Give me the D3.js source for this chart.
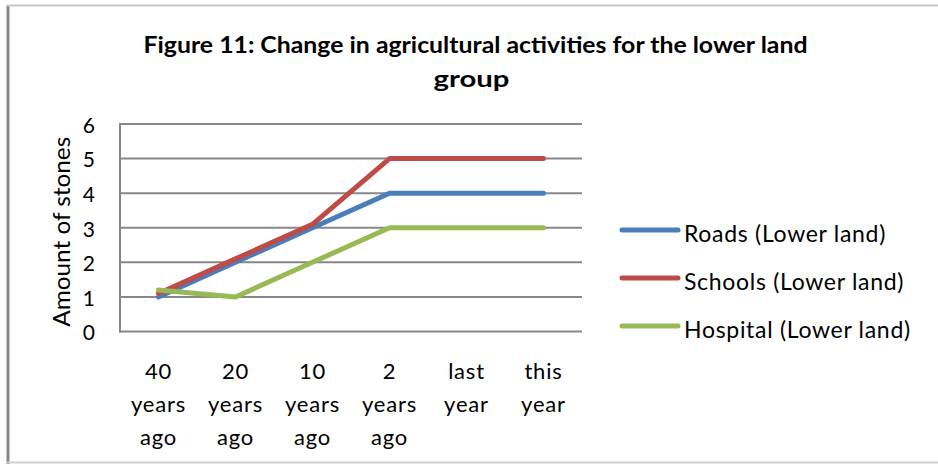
<!DOCTYPE html>
<html>
<head>
<meta charset="utf-8">
<script src="https://cdn.jsdelivr.net/npm/d3@7"></script>
<style>
  html, body { margin: 0; padding: 0; background: #fff; }
  svg { display: block; font-family: Lato, "Open Sans", sans-serif; }
</style>
</head>
<body>
<svg id="chart" width="938" height="464"></svg>
<script>
// Periods on the horizontal axis (each label wraps onto several lines)
const categories = [
  ["40", "years", "ago"],
  ["20", "years", "ago"],
  ["10", "years", "ago"],
  ["2", "years", "ago"],
  ["last", "year"],
  ["this", "year"]
];
const seriesNames = ["Roads (Lower land)", "Schools (Lower land)", "Hospital (Lower land)"];
const roads    = [1, 2, 3, 4, 4, 4];
const schools  = [1.1, 2.1, 3.1, 5, 5, 5];
const hospital = [1.2, 1, 2, 3, 3, 3];
const yTicks = [0, 1, 2, 3, 4, 5, 6];
const colors = ["#4A7EBB", "#BE4B48", "#98B954"];

const series = [roads, schools, hospital].map((values, i) => ({
  name: seriesNames[i], values, color: colors[i]
}));

const svg = d3.select("#chart");

// outer frame of the chart
svg.append("line").attr("x1", 8).attr("x2", 8).attr("y1", 5).attr("y2", 464)
  .attr("stroke", "#878787").attr("stroke-width", 3);
svg.append("line").attr("x1", 7).attr("x2", 938).attr("y1", 5.5).attr("y2", 5.5)
  .attr("stroke", "#c8c8c8").attr("stroke-width", 2);
svg.append("line").attr("x1", 7).attr("x2", 938).attr("y1", 462.5).attr("y2", 462.5)
  .attr("stroke", "#d0d0d0").attr("stroke-width", 2);

// title
const title = svg.append("text").attr("text-anchor", "middle")
  .attr("font-weight", "bold").attr("font-size", 22).attr("fill", "#000");
title.append("tspan").attr("x", 475.5).attr("y", 53)
  .attr("textLength", 664).attr("lengthAdjust", "spacingAndGlyphs")
  .text("Figure 11: Change  in agricultural  activities  for the lower land");
title.append("tspan").attr("x", 471.5).attr("y", 87)
  .attr("textLength", 76).attr("lengthAdjust", "spacingAndGlyphs")
  .text("group");

const plot = { left: 120, right: 582, top: 124, bottom: 331.5 };

const x = d3.scaleBand()
  .domain(d3.range(categories.length))
  .range([plot.left, plot.right]);
const y = d3.scaleLinear().domain([0, 6]).range([plot.bottom, plot.top]);

// horizontal gridlines
svg.append("g").selectAll("line").data(yTicks.filter(t => t > 0)).join("line")
  .attr("x1", plot.left).attr("x2", plot.right)
  .attr("y1", d => y(d)).attr("y2", d => y(d))
  .attr("stroke", "#878787").attr("stroke-width", 2);

// y axis
const yAxis = svg.append("g").attr("transform", `translate(${plot.left},0)`)
  .call(d3.axisLeft(y).tickValues(yTicks).tickFormat(d3.format("d"))
    .tickSize(0).tickPadding(25));
yAxis.select(".domain").remove();
yAxis.selectAll("text").attr("font-size", 21).attr("fill", "#000")
  .attr("font-family", "Lato, sans-serif").attr("dy", "0.4em");
svg.append("line").attr("x1", plot.left).attr("x2", plot.left)
  .attr("y1", plot.top - 1).attr("y2", plot.bottom + 1)
  .attr("stroke", "#878787").attr("stroke-width", 2);

// x axis baseline
svg.append("line").attr("x1", plot.left - 1).attr("x2", plot.right)
  .attr("y1", plot.bottom).attr("y2", plot.bottom)
  .attr("stroke", "#878787").attr("stroke-width", 2);

// x axis labels
const xLabels = svg.append("g").selectAll("text").data(categories).join("text")
  .attr("text-anchor", "middle").attr("font-size", 22).attr("fill", "#000");
xLabels.each(function (lines, i) {
  const t = d3.select(this);
  lines.forEach((ln, k) => {
    t.append("tspan").attr("x", x(i) + x.bandwidth() / 2)
      .attr("y", 379 + k * 33).attr("letter-spacing", 0.8).text(ln);
  });
});

// y axis title
svg.append("text")
  .attr("transform", `translate(70,${(plot.top + plot.bottom) / 2 + 4}) rotate(-90)`)
  .attr("text-anchor", "middle").attr("font-size", 23).attr("fill", "#000")
  .attr("textLength", 190).attr("lengthAdjust", "spacingAndGlyphs")
  .text("Amount of stones");

// series lines
const line = d3.line()
  .x((d, i) => x(i) + x.bandwidth() / 2)
  .y(d => y(d));

svg.append("g").selectAll("path").data(series).join("path")
  .attr("d", d => line(d.values))
  .attr("fill", "none")
  .attr("stroke", d => d.color)
  .attr("stroke-width", 5)
  .attr("stroke-linecap", "round")
  .attr("stroke-linejoin", "round");

// legend
const legend = svg.append("g").selectAll("g").data(series).join("g")
  .attr("transform", (d, i) => `translate(622,${230 + i * 48})`);
legend.append("line").attr("x1", 0).attr("x2", 56)
  .attr("stroke", d => d.color).attr("stroke-width", 5).attr("stroke-linecap", "round");
legend.append("text").attr("x", 62).attr("y", 12)
  .attr("font-size", 23).attr("fill", "#000").attr("letter-spacing", 0.7)
  .text(d => d.name);
</script>
</body>
</html>
